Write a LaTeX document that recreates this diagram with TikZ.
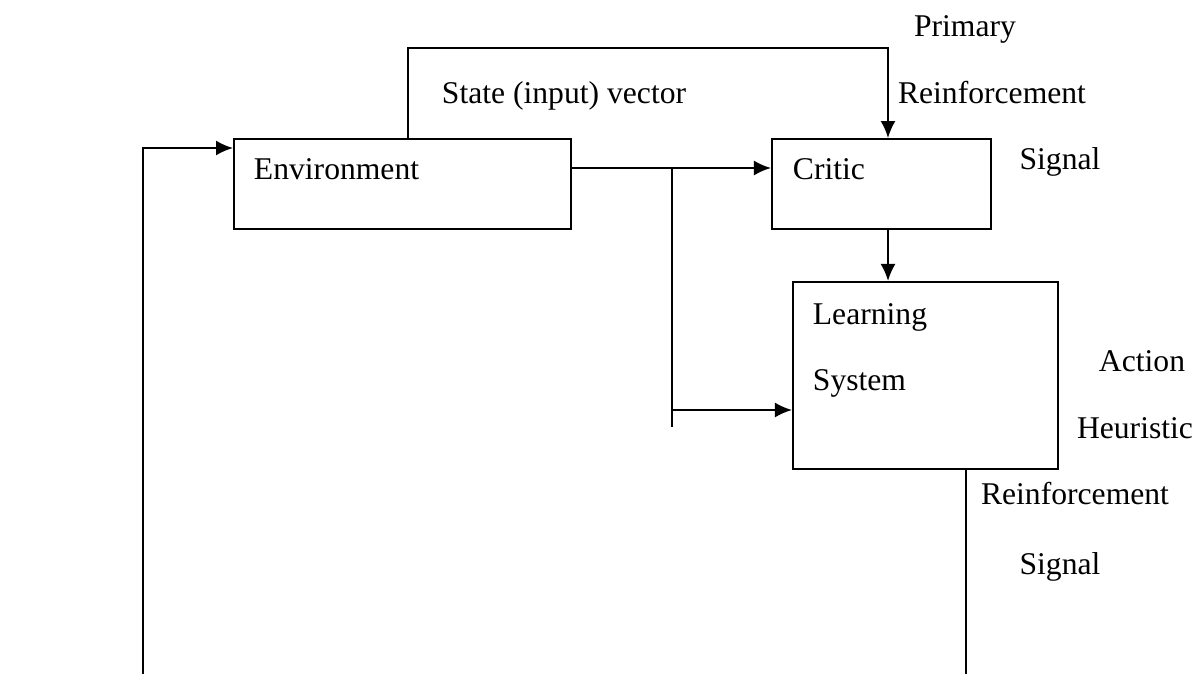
\documentclass[tikz,border=0pt]{standalone}
\usepackage{fontspec}
\setmainfont{Liberation Serif}
\usepackage{tikz}
\usetikzlibrary{arrows.meta,positioning,calc}

\begin{document}
\begin{tikzpicture}[node distance=3.98cm,
  every node/.style={font=\fontsize{18}{22}\selectfont},
  line width=1.1pt
]

\tikzstyle{block}=[draw,rectangle,line width=1.1pt,inner sep=0pt,minimum height=1.8cm]
\tikzset{label style/.style={inner sep=0pt,anchor=mid,yshift=-0.14cm},
  text style/.style={inner sep=0pt,anchor=mid west,yshift=-0.14cm},
  arr/.style={-{Latex[length=3.4mm,width=3mm]}}}

\useasboundingbox (0,0) rectangle (23.94,-13.48);

\node[block,minimum width=6.74cm,anchor=north west] (env) at (4.66,-2.76) {};
\node[block,minimum width=4.38cm,right=of env]       (critic) {};
\node[block,minimum width=5.3cm,minimum height=3.74cm,anchor=north west]
  (learn) at ([shift={(0.42,-1.02)}]critic.south west) {};

\node[text style] (envtxt)    at ([shift={(0.4,-0.6)}]env.north west)     {Environment};
\node[text style] (critictxt) at ([shift={(0.42,-0.6)}]critic.north west) {Critic};
\node[text style] (learntxt)  at ([shift={(0.4,-0.66)}]learn.north west)  {Learning};
\node[text style] (systxt)    at ([shift={(0.4,-1.98)}]learn.north west)  {System};

\node[label style] (state) at (11.28,-1.84) {State (input) vector};
\node[label style] (prim)  at (19.3,-0.5)   {Primary};
\node[label style] (prre)  at (19.84,-1.84) {Reinforcement};
\node[label style] (prsig) at (21.2,-3.16)  {Signal};
\node[label style] (act)   at (22.84,-7.2)  {Action};
\node[label style] (heur)  at (22.7,-8.54)  {Heuristic};
\node[label style] (hre)   at (21.5,-9.86)  {Reinforcement};
\node[label style] (hsig)  at (21.2,-11.26) {Signal};

\coordinate (top) at (8.16,-0.96);
\coordinate (crx) at (17.76,-0.96);
\coordinate (sv)  at (13.44,-3.36);
\coordinate (br)  at (13.44,-8.54);
\coordinate (ls)  at (13.44,-8.2);
\coordinate (fb)  at (2.86,-13.48);
\coordinate (fin) at (2.86,-2.96);
\coordinate (out) at (19.32,-13.48);

\draw[arr] (top |- env.north) -- (top) -- (crx) -- (crx |- critic.north);
\draw[arr] (sv -| env.east) -- (sv -| critic.west);
\draw (sv) -- (br);
\draw[arr] (ls) -- (ls -| learn.west);
\draw[arr] (crx |- critic.south) -- (crx |- learn.north);
\draw (out |- learn.south) -- (out);
\draw[arr] (fb) -- (fin) -- (fin -| env.west);

\end{tikzpicture}
\end{document}
